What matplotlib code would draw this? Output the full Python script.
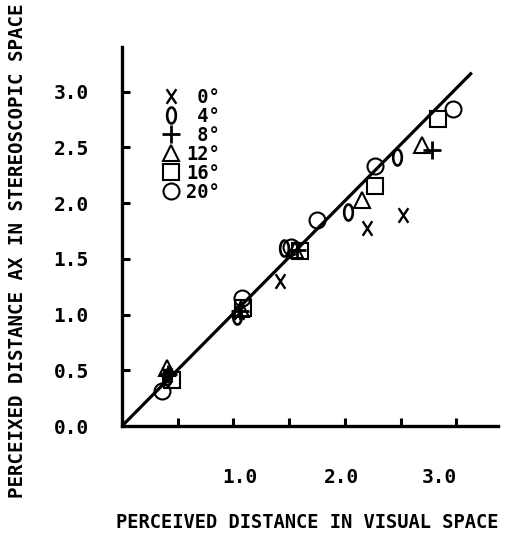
import matplotlib
matplotlib.use("Agg")
import numpy as np
import matplotlib.pyplot as plt
from matplotlib.lines import Line2D
from matplotlib.path import Path

# ---- data ----
labels = [" 0°", " 4°", " 8°", "12°", "16°", "20°"]

x_0 = [0.40, 1.05, 1.42, 2.20, 2.52]
y_0 = [0.46, 1.02, 1.30, 1.78, 1.89]

x_4 = [0.40, 1.03, 1.45, 2.03, 2.47]
y_4 = [0.44, 0.99, 1.60, 1.92, 2.41]

x_8 = [0.41, 1.06, 1.57, 2.78]
y_8 = [0.47, 1.03, 1.58, 2.48]

x_12 = [0.40, 1.07, 1.55, 2.15, 2.69]
y_12 = [0.52, 1.05, 1.58, 2.03, 2.52]

x_16 = [0.45, 1.09, 1.60, 2.27, 2.84]
y_16 = [0.41, 1.06, 1.57, 2.15, 2.75]

x_20 = [0.36, 1.08, 1.52, 1.75, 2.27, 2.97]
y_20 = [0.31, 1.15, 1.61, 1.85, 2.33, 2.84]

line_x = [0.0, 3.14]
line_y = [0.0, 3.17]

y_ticks = [0.0, 0.5, 1.0, 1.5, 2.0, 2.5, 3.0]
y_tick_labels = ["0.0", "0.5", "1.0", "1.5", "2.0", "2.5", "3.0"]
x_ticks = [0.5, 1.0, 1.5, 2.0, 2.5, 3.0]
x_label_pos = [1.06, 1.97, 2.85]
x_tick_labels = ["1.0", "2.0", "3.0"]

# ---- custom marker shapes ----
t = np.linspace(0, 2 * np.pi, 60)
ellipse = Path(np.column_stack([0.27 * np.cos(t), 0.5 * np.sin(t)]), closed=True)
xmark = Path([(-0.33, -0.5), (0.33, 0.5), (-0.33, 0.5), (0.33, -0.5)],
             [Path.MOVETO, Path.LINETO, Path.MOVETO, Path.LINETO])

# ---- figure ----
mono = "DejaVu Sans Mono"
fig = plt.figure(figsize=(5.14, 5.34), dpi=100)
ax = fig.add_axes([122/514, 1-426/534, (498-122)/514, (426-47)/534])
ax.set_xlim(0, 3.375)
ax.set_ylim(0, 3.40)

ax.plot(line_x, line_y, color="black", lw=2.3, solid_capstyle="butt", zorder=2)

series = [
    (x_0, y_0, xmark, 10.5, 1.7),
    (x_4, y_4, ellipse, 11.5, 1.9),
    (x_8, y_8, "+", 12.5, 2.0),
    (x_12, y_12, "^", 11.5, 1.5),
    (x_16, y_16, "s", 11.0, 1.5),
    (x_20, y_20, "o", 11.5, 1.5),
]
handles = []
for (xs, ys, m, s, w), lab in zip(series, labels):
    ax.plot(xs, ys, ls="none", marker=m, markersize=s, mew=w, color="black",
            mfc="none", mec="black", zorder=3, clip_on=False)
    handles.append(Line2D([], [], ls="none", marker=m, markersize=s, mew=w,
                          color="black", mfc="none", mec="black", label=lab))

leg = ax.legend(handles=handles, loc="upper left", bbox_to_anchor=(0.09, 0.912),
                frameon=False, handlelength=0.8, handletextpad=0.4,
                labelspacing=0.0, borderaxespad=0.0,
                prop=dict(family=mono, weight="bold", size=13.5))

for s in ["top", "right"]:
    ax.spines[s].set_visible(False)
for s in ["left", "bottom"]:
    ax.spines[s].set_linewidth(2.4)

ax.set_yticks(y_ticks[1:])
ax.set_yticklabels(y_tick_labels[1:])
ax.set_yticks([0.0], minor=True)
ax.set_yticklabels([y_tick_labels[0]], minor=True)
ax.tick_params(axis="y", which="major", direction="in", length=6, width=2.2, pad=24)
ax.tick_params(axis="y", which="minor", direction="in", length=0, pad=24)

ax.set_xticks(x_ticks)
ax.set_xticklabels([""] * len(x_ticks))
ax.set_xticks(x_label_pos, minor=True)
ax.set_xticklabels(x_tick_labels, minor=True)
ax.tick_params(axis="x", which="major", direction="in", length=6, width=2.2)
ax.tick_params(axis="x", which="minor", length=0, pad=30)

for tl in ax.get_yticklabels(which="both") + ax.get_xticklabels(which="both"):
    tl.set_fontfamily(mono)
    tl.set_fontweight("bold")
    tl.set_fontsize(14)

fig.text(307/514, 1-522/534, "PERCEIVED DISTANCE IN VISUAL SPACE", ha="center", va="center",
         family=mono, weight="bold", fontsize=13.5)
fig.text(18/514, 1-251/534, "PERCEIXED DISTANCE AX IN STEREOSCOPIC SPACE", ha="center", va="center",
         rotation=90, family=mono, weight="bold", fontsize=13.8)

fig.savefig("out.png", dpi=100)
